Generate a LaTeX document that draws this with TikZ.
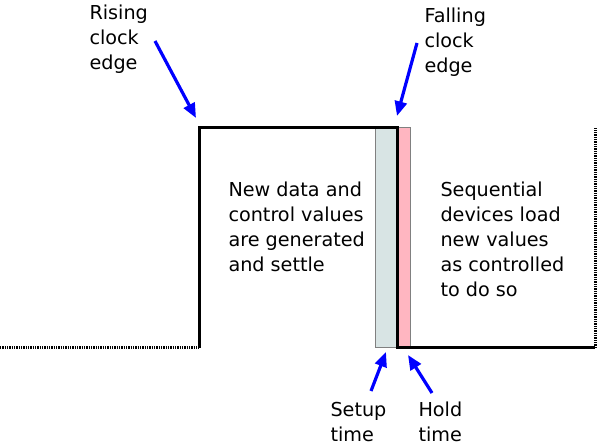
\documentclass[tikz,border=0pt]{standalone}
\usepackage{fontspec}
\setmainfont{DejaVu Sans}
\usetikzlibrary{arrows.meta}
\definecolor{setupc}{HTML}{D8E4E4}
\definecolor{holdc}{HTML}{FFB6C1}
\newcommand{\lbl}{\fontsize{14.4}{18.75}\selectfont}
\begin{document}
\begin{tikzpicture}[x=0.75pt, y=-0.75pt, line width = 2.25pt,
  txt/.style={anchor=base west, align=left, inner sep=0pt, font=\lbl},
  ptr/.style={blue, line width=2.4pt, -{Triangle[length=11pt,width=9pt]}},
  dots/.style={dash pattern=on 1pt off 0.75pt}]
 \useasboundingbox (0,0) rectangle (600,445);

 % setup and hold windows
 \draw[gray, line width=0.75pt, fill=setupc] (375,128) rectangle (397,348);
 \draw[gray, line width=0.75pt, fill=holdc] (397,128) rectangle (410,348);

 % clock
 \coordinate (lo0) at (0,348);
 \coordinate (up) at (199,348);
 \coordinate (rise) at (199,128);
 \coordinate (fall) at (397,128);
 \coordinate (down) at (397,348);
 \coordinate (lo1) at (595,348);
 \coordinate (hi1) at (595,128);
 \draw[dots] (lo0) -- (up);
 \draw (up) -- (rise) -- (fall) -- (down) -- (lo1);
 \draw[dots] (lo1) -- (hi1);

 % labels (placed at the baseline of their last line)
 \node[txt] (rising) at (88,70) {Rising\\clock\\edge};
 \node[txt] (falling) at (423,73) {Falling\\clock\\edge};
 \node[txt] (gen) at (227,272) {New data and\\control values\\are generated\\and settle};
 \node[txt] (seq) at (439,297) {Sequential\\devices load\\new values\\as controlled\\to do so};
 \node[txt] (setup) at (329,441) {Setup\\time};
 \node[txt] (hold) at (417,441) {Hold\\time};

 % pointers
 \coordinate (r0) at (155,41);   \coordinate (r1) at (196,118);
 \coordinate (f0) at (417,43);   \coordinate (f1) at (397,116);
 \coordinate (s0) at (371,391);  \coordinate (s1) at (386,352);
 \coordinate (h0) at (432,393);  \coordinate (h1) at (408,355);
 \draw[ptr] (r0) -- (r1);
 \draw[ptr] (f0) -- (f1);
 \draw[ptr] (s0) -- (s1);
 \draw[ptr] (h0) -- (h1);
\end{tikzpicture}
\end{document}
